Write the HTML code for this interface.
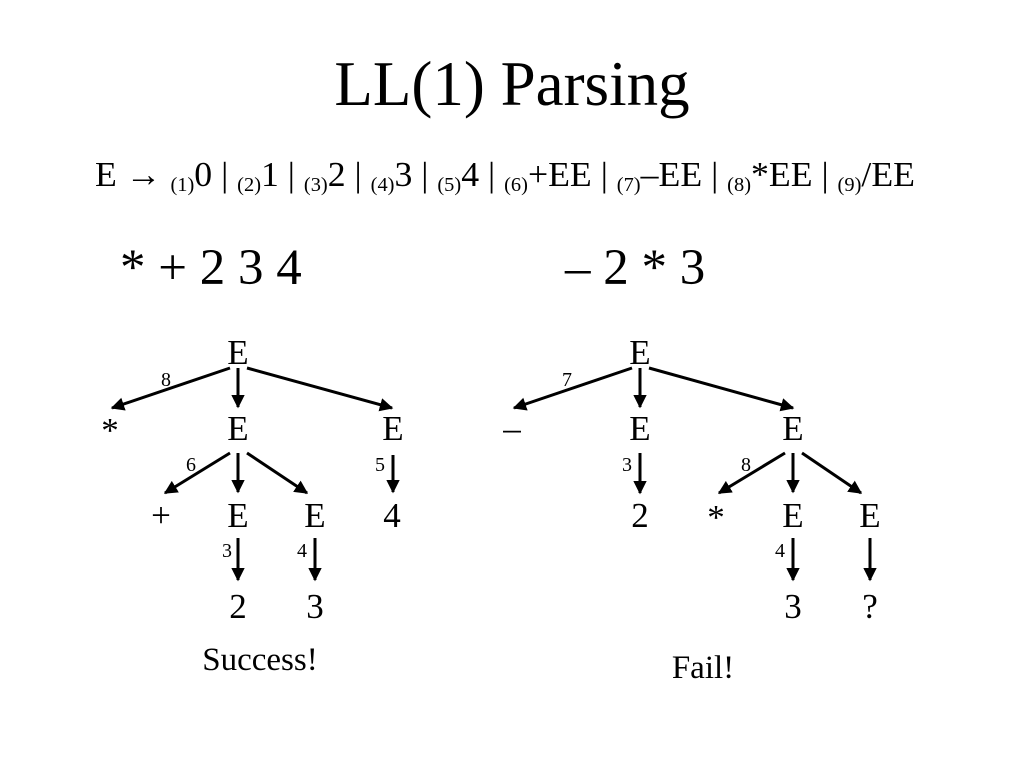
<!DOCTYPE html>
<html><head><meta charset="utf-8"><style>
html,body{margin:0;padding:0;background:#fff}
svg{display:block}
text{font-family:"Liberation Serif",serif;fill:#000}
</style></head><body>
<svg width="1024" height="768" viewBox="0 0 1024 768" xmlns="http://www.w3.org/2000/svg">
<defs><marker id="a" viewBox="0 0 10 10" refX="9" refY="5" markerWidth="4.5" markerHeight="4.5" orient="auto"><path d="M0,0L10,5L0,10z" fill="#000"/></marker></defs>
<text x="512" y="105" font-size="63" text-anchor="middle">LL(1) Parsing</text>
<text x="95" y="186" font-size="35" textLength="820" lengthAdjust="spacingAndGlyphs">E → <tspan font-size="20" dy="5">(1)</tspan><tspan dy="-5">0 | </tspan><tspan font-size="20" dy="5">(2)</tspan><tspan dy="-5">1 | </tspan><tspan font-size="20" dy="5">(3)</tspan><tspan dy="-5">2 | </tspan><tspan font-size="20" dy="5">(4)</tspan><tspan dy="-5">3 | </tspan><tspan font-size="20" dy="5">(5)</tspan><tspan dy="-5">4 | </tspan><tspan font-size="20" dy="5">(6)</tspan><tspan dy="-5">+EE | </tspan><tspan font-size="20" dy="5">(7)</tspan><tspan dy="-5">–EE | </tspan><tspan font-size="20" dy="5">(8)</tspan><tspan dy="-5">*EE | </tspan><tspan font-size="20" dy="5">(9)</tspan><tspan dy="-5">/EE</tspan></text>
<text x="120" y="284" font-size="51">* + 2 3 4</text>
<text x="565" y="284" font-size="51">– 2 * 3</text>
<g font-size="35" text-anchor="middle">
<text x="238" y="364">E</text>
<text x="110" y="442">*</text><text x="238" y="440">E</text><text x="393" y="440">E</text>
<text x="161" y="527">+</text><text x="238" y="527">E</text><text x="315" y="527">E</text><text x="392" y="527">4</text>
<text x="238" y="618">2</text><text x="315" y="618">3</text>
<text x="640" y="364">E</text>
<text x="512" y="440">–</text><text x="640" y="440">E</text><text x="793" y="440">E</text>
<text x="640" y="527">2</text><text x="716" y="529">*</text><text x="793" y="527">E</text><text x="870" y="527">E</text>
<text x="793" y="618">3</text><text x="870" y="618">?</text>
</g>
<g font-size="20" text-anchor="middle">
<text x="166" y="386">8</text><text x="191" y="471">6</text><text x="380" y="471">5</text>
<text x="227" y="557">3</text><text x="302" y="557">4</text>
<text x="567" y="386">7</text><text x="627" y="471">3</text><text x="746" y="471">8</text><text x="780" y="557">4</text>
</g>
<text x="260" y="670" font-size="33" text-anchor="middle">Success!</text>
<text x="703" y="678" font-size="33" text-anchor="middle">Fail!</text>
<g stroke="#000" stroke-width="3" marker-end="url(#a)">
<line x1="230" y1="368" x2="112" y2="408"/>
<line x1="238" y1="368" x2="238" y2="407"/>
<line x1="247" y1="368" x2="392" y2="408"/>
<line x1="230" y1="453" x2="165" y2="493"/>
<line x1="238" y1="453" x2="238" y2="492"/>
<line x1="247" y1="453" x2="307" y2="493"/>
<line x1="393" y1="455" x2="393" y2="492"/>
<line x1="238" y1="538" x2="238" y2="580"/>
<line x1="315" y1="538" x2="315" y2="580"/>
<line x1="632" y1="368" x2="514" y2="408"/>
<line x1="640" y1="368" x2="640" y2="407"/>
<line x1="649" y1="368" x2="793" y2="408"/>
<line x1="640" y1="453" x2="640" y2="493"/>
<line x1="785" y1="453" x2="719" y2="493"/>
<line x1="793" y1="453" x2="793" y2="492"/>
<line x1="802" y1="453" x2="861" y2="493"/>
<line x1="793" y1="538" x2="793" y2="580"/>
<line x1="870" y1="538" x2="870" y2="580"/>
</g>
</svg>
</body></html>
